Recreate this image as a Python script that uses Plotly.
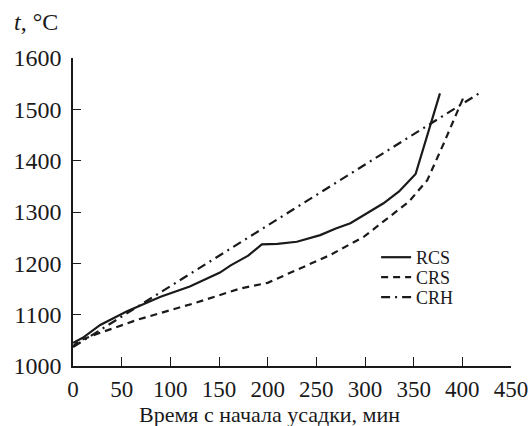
import plotly.graph_objects as go

# Data
rcs_x = [0, 10, 28, 55, 90, 120, 151, 162, 180, 194, 210, 230, 254, 270, 285, 300, 319, 335, 346, 352, 377]
rcs_y = [1045, 1055, 1080, 1106, 1135, 1155, 1182, 1196, 1215, 1237, 1238, 1242, 1255, 1268, 1278, 1295, 1317, 1340, 1362, 1374, 1531]

crs_x = [0, 5, 21, 66, 124, 172, 200, 230, 264, 299, 326, 345, 364, 381, 402]
crs_y = [1038, 1048, 1060, 1090, 1122, 1151, 1162, 1187, 1216, 1252, 1291, 1320, 1362, 1434, 1527]

crh_x = [0, 418]
crh_y = [1037, 1532]

x_ticks = [0, 50, 100, 150, 200, 250, 300, 350, 400, 450]
y_ticks = [1000, 1100, 1200, 1300, 1400, 1500, 1600]

FONT = "Liberation Serif, Times New Roman, serif"
C = "#1a1a1a"

fig = go.Figure()
fig.add_trace(go.Scatter(x=rcs_x, y=rcs_y, mode="lines", name="RCS", legend="legend",
                         line=dict(color=C, width=2.2)))
fig.add_trace(go.Scatter(x=crs_x, y=crs_y, mode="lines", name="CRS", legend="legend2",
                         line=dict(color=C, width=2.2, dash="7px,5px")))
fig.add_trace(go.Scatter(x=crh_x, y=crh_y, mode="lines", name="CRH", legend="legend3",
                         line=dict(color=C, width=2.2, dash="9px,5px,2px,5px")))

def leg(ypx):
    return dict(x=0.692, y=(366 - ypx) / 308, xanchor="left", yanchor="middle",
                font=dict(family=FONT, size=18, color=C),
                bgcolor="rgba(0,0,0,0)", itemwidth=30)

fig.update_layout(
    width=532, height=426,
    margin=dict(l=73, r=21, t=58, b=60, autoexpand=False),
    paper_bgcolor="white", plot_bgcolor="white",
    font=dict(family=FONT, size=24, color=C),
    showlegend=True,
    legend=leg(257.5),
    legend2=leg(277.5),
    legend3=leg(297.5),
    xaxis=dict(range=[0, 450], tickvals=x_ticks, ticks="inside", ticklen=9,
               tickwidth=1.3, tickcolor=C, showline=True, linecolor=C, linewidth=1.5,
               showgrid=False, zeroline=False, tickfont=dict(size=23),
               ticklabelstandoff=2),
    yaxis=dict(range=[1000, 1600], tickvals=y_ticks, ticks="inside", ticklen=8,
               tickwidth=1.3, tickcolor=C, showline=True, linecolor=C, linewidth=1.5,
               showgrid=False, zeroline=False, tickfont=dict(size=24),
               ticklabelstandoff=5),
    annotations=[
        dict(text="<i>t</i>, °C", xref="paper", yref="paper", x=-0.139, y=1.117,
             xanchor="left", yanchor="middle", showarrow=False,
             font=dict(family=FONT, size=24, color=C)),
        dict(text="Время с начала усадки, мин", xref="paper", yref="paper",
             x=(269 - 73) / 438, y=(366 - 414) / 308, xanchor="center", yanchor="middle",
             showarrow=False, font=dict(family=FONT, size=22, color=C)),
    ],
)

fig.write_html("out.html", config={"displayModeBar": False},
               post_script="document.body.style.margin='0';document.body.style.overflow='hidden';")
